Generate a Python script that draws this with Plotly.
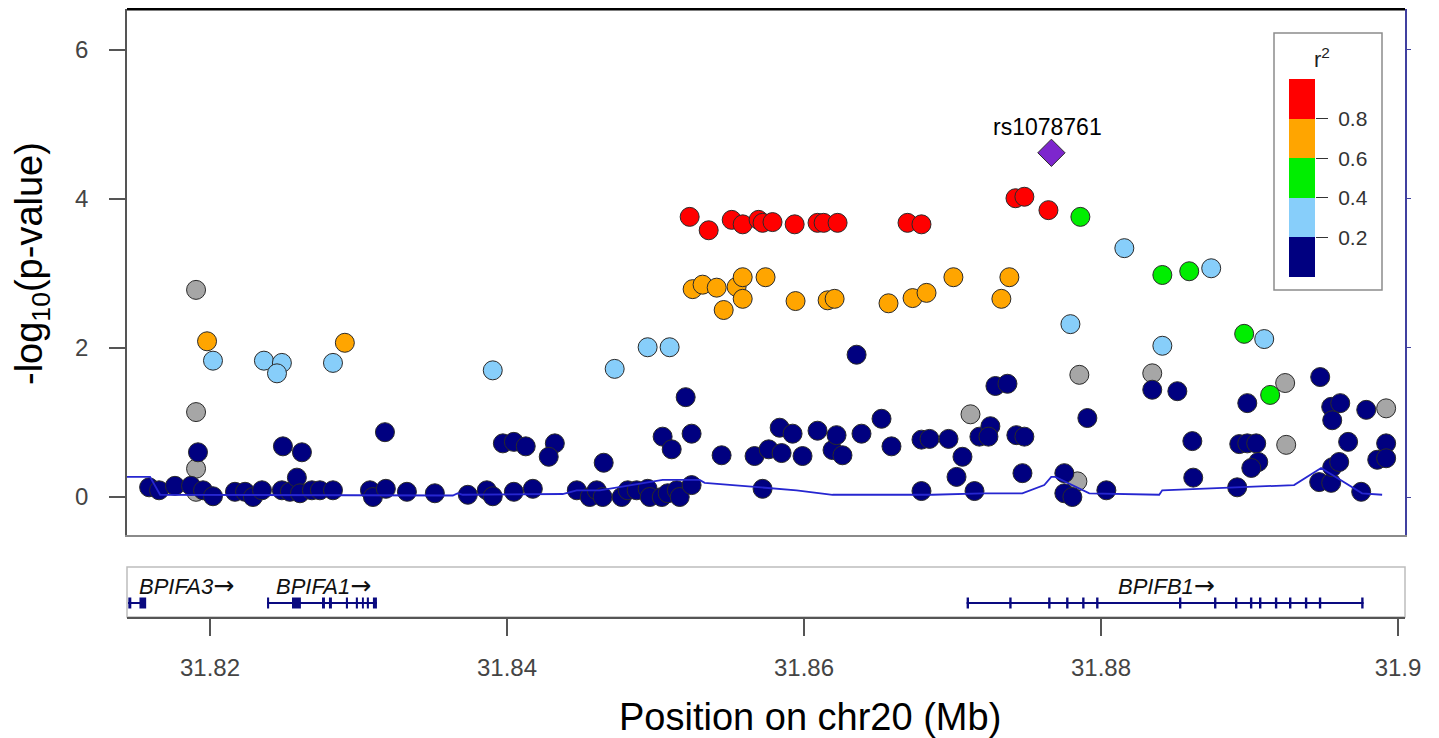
import plotly.graph_objects as go

# -------- SNP data (position in Mb, -log10 p) grouped by LD r2 class --------
navy_pos = [31.81590, 31.81657, 31.81764, 31.81872, 31.81953, 31.82020, 31.81919, 31.82168, 31.82236,
            31.82289, 31.82350, 31.82484, 31.82538, 31.82585, 31.82606, 31.82686, 31.82740, 31.82828,
            31.82491, 31.82619, 31.83178, 31.83077, 31.83097, 31.83184, 31.83326, 31.83514, 31.83736,
            31.83864, 31.83904, 31.83972, 31.84046, 31.84126, 31.84046, 31.84174, 31.84322, 31.84281,
            31.84470, 31.84557, 31.84604, 31.84651,
            31.84644, 31.84772, 31.84813, 31.84873, 31.84947, 31.84961, 31.85042, 31.85082, 31.85143,
            31.85163, 31.85243, 31.85203, 31.85048, 31.85109, 31.85243, 31.85445, 31.85667, 31.85721,
            31.85762, 31.85849, 31.85836, 31.85923, 31.85990, 31.86091, 31.86192, 31.86219, 31.86259,
            31.86354, 31.86387, 31.86522, 31.86589, 31.86791, 31.86845, 31.86973, 31.86791, 31.87067,
            31.87027, 31.87148, 31.87181, 31.87255, 31.87242, 31.87289, 31.87370, 31.87430, 31.87484,
            31.87471, 31.87753, 31.87753, 31.87807, 31.87908,
            31.88036, 31.88345, 31.88514, 31.88615, 31.88621, 31.88917, 31.88931, 31.88985, 31.89045,
            31.89059, 31.89012, 31.88985, 31.89476, 31.89550, 31.89611, 31.89557, 31.89786, 31.89664,
            31.89920, 31.89860, 31.89920, 31.89469, 31.89550, 31.89557, 31.89604, 31.89752]
navy_logp = [0.13, 0.09, 0.15, 0.15, 0.09, 0.01, 0.60, 0.07, 0.07,
             0.00, 0.09, 0.09, 0.07, 0.26, 0.05, 0.09, 0.09, 0.09,
             0.68, 0.60, 0.87, 0.09, 0.00, 0.11, 0.07, 0.05, 0.03,
             0.09, 0.01, 0.72, 0.74, 0.68, 0.07, 0.11, 0.72, 0.54,
             0.09, 0.00, 0.09, 0.46,
             0.00, 0.00, 0.09, 0.09, 0.11, 0.00, 0.00, 0.05, 0.09,
             0.00, 0.16, 1.34, 0.81, 0.64, 0.85, 0.56, 0.55, 0.11,
             0.64, 0.59, 0.93, 0.85, 0.55, 0.89, 0.63, 0.83, 0.56,
             1.91, 0.85, 1.05, 0.68, 0.77, 0.78, 0.78, 0.08, 0.54,
             0.27, 0.08, 0.81, 0.95, 0.81, 1.49, 1.52, 0.83, 0.81,
             0.32, 0.32, 0.05, 0.00, 1.06,
             0.09, 1.44, 1.42, 0.75, 0.26, 0.13, 0.71, 0.72, 0.72,
             0.47, 0.39, 1.26, 1.61, 1.21, 1.26, 1.03, 1.17, 0.74,
             0.72, 0.50, 0.52, 0.20, 0.19, 0.40, 0.47, 0.07]

lightblue_pos = [31.82020, 31.82363, 31.82484, 31.82451, 31.82828, 31.83904, 31.84725, 31.84947,
                 31.85095, 31.87794, 31.88157, 31.88742, 31.88413, 31.89099]
lightblue_logp = [1.83, 1.83, 1.80, 1.66, 1.80, 1.70, 1.72, 2.01,
                  2.01, 2.32, 3.34, 3.07, 2.03, 2.12]

green_pos = [31.87861, 31.88413, 31.88594, 31.88964, 31.89139]
green_logp = [3.76, 2.98, 3.03, 2.19, 1.37]

orange_pos = [31.81980, 31.82908, 31.85250, 31.85317, 31.85412, 31.85546, 31.85587, 31.85741,
              31.85459, 31.85587, 31.85943, 31.86159, 31.86206, 31.86569, 31.86731, 31.86825,
              31.87006, 31.87383, 31.87329]
orange_logp = [2.09, 2.07, 2.79, 2.85, 2.81, 2.82, 2.95, 2.95,
               2.51, 2.66, 2.63, 2.64, 2.66, 2.60, 2.67, 2.74,
               2.95, 2.95, 2.66]

red_pos = [31.85230, 31.85358, 31.85513, 31.85587, 31.85694, 31.85721, 31.85788, 31.85937,
           31.86091, 31.86132, 31.86226, 31.86697, 31.86791, 31.87424, 31.87484, 31.87646]
red_logp = [3.76, 3.58, 3.72, 3.66, 3.72, 3.68, 3.69, 3.66,
            3.68, 3.68, 3.68, 3.68, 3.66, 4.01, 4.03, 3.85]

gray_pos = [31.81906, 31.81906, 31.81906, 31.81906, 31.87121, 31.87854, 31.87841, 31.88345,
            31.89240, 31.89247, 31.89920]
gray_logp = [2.78, 1.14, 0.38, 0.07, 1.11, 1.64, 0.21, 1.66,
             1.53, 0.70, 1.19]

index_snp = "rs1078761"
index_pos = [31.87666]
index_logp = [4.62]

# recombination rate (cM/Mb)
recomb_pos = [31.81441, 31.81596, 31.81664, 31.83635, 31.83669, 31.83702, 31.84375, 31.84469,
              31.84624, 31.84994, 31.85048, 31.85297, 31.85331, 31.85950, 31.86192, 31.86865,
              31.87201, 31.87470, 31.87618, 31.87665, 31.87692, 31.87921, 31.88392, 31.88412,
              31.88883, 31.89300, 31.89482, 31.89758, 31.89893]
recomb_rate = [2.7, 2.7, 0.3, 0.2, 0.5, 0.3, 0.4, 0.9,
               0.9, 2.1, 2.3, 2.3, 1.9, 0.9, 0.3, 0.3,
               0.5, 0.5, 1.6, 2.7, 2.7, 0.5, 0.3, 0.9,
               1.3, 1.6, 3.9, 0.5, 0.3]

# genes
gene_names = ["BPIFA3", "BPIFA1", "BPIFB1"]
gene_start = [31.81448, 31.82384, 31.87095]
gene_end = [31.81569, 31.83124, 31.89768]
exon_starts = [
    [31.81450, 31.81525],
    [31.82384, 31.82552, 31.82754, 31.82801, 31.82915, 31.82982, 31.83023, 31.83056, 31.83097],
    [31.87095, 31.87382, 31.87644, 31.87765, 31.87873, 31.87967, 31.88525, 31.88761, 31.88902,
     31.89003, 31.89064, 31.89171, 31.89266, 31.89373, 31.89467, 31.89752],
]
exon_ends = [
    [31.81470, 31.81570],
    [31.82398, 31.82612, 31.82774, 31.82821, 31.82929, 31.82996, 31.83036, 31.83070, 31.83124],
    [31.87111, 31.87398, 31.87660, 31.87781, 31.87889, 31.87983, 31.88541, 31.88777, 31.88918,
     31.89019, 31.89080, 31.89187, 31.89282, 31.89389, 31.89483, 31.89768],
]
gene_label_pos = [31.81839, 31.82767, 31.88439]

ld_breaks = [0.0, 0.2, 0.4, 0.6, 0.8, 1.0]
ld_colors = ["#000080", "#87CEFA", "#00EE00", "#FFA500", "#FF0000"]
ld_mid = [0.1, 0.3, 0.5, 0.7, 0.9]

# the page body keeps its 8px margin, so the figure is a bit smaller than the window
PAGE_OFF = 8
W, H = 1439 - PAGE_OFF, 738 - PAGE_OFF
xr = [31.81441, 31.90047]
yr = [-0.51, 6.55]


def px_x(p):
    return (p - PAGE_OFF) / W


def px_y(p):
    return 1 - (p - PAGE_OFF) / H


fig = go.Figure()

# recombination line on right axis
fig.add_trace(go.Scatter(x=recomb_pos, y=recomb_rate, mode="lines", yaxis="y2",
                         line=dict(color="#2626d0", width=1.8), hoverinfo="skip"))


def snp_trace(xs, ys, color, symbol="circle", size=19):
    return go.Scatter(x=xs, y=ys, mode="markers",
                      marker=dict(color=color, size=size, symbol=symbol,
                                  line=dict(color="#2a2a2a", width=1)))


fig.add_trace(snp_trace(gray_pos, gray_logp, "#A6A6A6"))
fig.add_trace(snp_trace(navy_pos, navy_logp, ld_colors[0]))
fig.add_trace(snp_trace(lightblue_pos, lightblue_logp, ld_colors[1]))
fig.add_trace(snp_trace(green_pos, green_logp, ld_colors[2]))
fig.add_trace(snp_trace(orange_pos, orange_logp, ld_colors[3]))
fig.add_trace(snp_trace(red_pos, red_logp, ld_colors[4]))
fig.add_trace(snp_trace(index_pos, index_logp, "#7D26CD", symbol="diamond", size=21))

# gene track
for i, name in enumerate(gene_names):
    fig.add_trace(go.Scatter(x=[gene_start[i], gene_end[i]], y=[0.28, 0.28], mode="lines",
                             xaxis="x2", yaxis="y3", line=dict(color="#0a0a80", width=2),
                             hoverinfo="skip"))
    ex, ey = [], []
    for s, e in zip(exon_starts[i], exon_ends[i]):
        ex += [s, e, None]
        ey += [0.28, 0.28, None]
    fig.add_trace(go.Scatter(x=ex, y=ey, mode="lines", xaxis="x2", yaxis="y3",
                             line=dict(color="#0a0a80", width=11), hoverinfo="skip"))
    fig.add_annotation(x=gene_label_pos[i], y=0.64, xref="x2", yref="y3", showarrow=False,
                       xanchor="center", yanchor="middle",
                       text="<i>" + name + "</i><span style=\"font-family:DejaVu Sans;font-size:25px\">→</span>",
                       font=dict(size=22, color="#111"))

# r2 legend bar
fig.add_trace(go.Heatmap(z=[[v] for v in ld_mid], y=ld_mid, x=[0], xaxis="x3", yaxis="y4",
                         zmin=0, zmax=1, showscale=False, hoverinfo="skip",
                         colorscale=[[ld_breaks[k + j], ld_colors[k]] for k in range(5) for j in (0, 1)]))

xdom = [px_x(127), px_x(1405)]
fig.update_layout(
    width=W, height=H, margin=dict(l=0, r=0, t=0, b=0, autoexpand=False),
    paper_bgcolor="white", plot_bgcolor="white", showlegend=False,
    font=dict(family="Liberation Sans, Arial, sans-serif"),
    xaxis=dict(domain=xdom, range=xr, anchor="y", showticklabels=False, ticks="", automargin=False,
               showgrid=False, zeroline=False, showline=True, linecolor="#8a8a8a", linewidth=1.5),
    yaxis=dict(domain=[px_y(535), px_y(9)], range=yr, anchor="x", tickvals=[0, 2, 4, 6],
               ticks="outside", ticklen=16, tickwidth=1.5, tickcolor="#555", automargin=False,
               tickfont=dict(size=24, color="#444"), ticklabelstandoff=16,
               showgrid=False, zeroline=False, showline=True, linecolor="#555", linewidth=1.5),
    yaxis2=dict(overlaying="y", side="right", anchor="x", range=[v * 10 for v in yr],
                tickvals=[0, 20, 40, 60], ticks="outside", ticklen=4, tickcolor="#4040a0",
                showticklabels=False, showgrid=False, zeroline=False, automargin=False,
                showline=True, linecolor="#4040a0", linewidth=1.5),
    xaxis2=dict(domain=xdom, range=xr, anchor="y3", matches="x", automargin=False,
                tickvals=[31.82, 31.84, 31.86, 31.88, 31.9],
                ticktext=["31.82", "31.84", "31.86", "31.88", "31.9"],
                ticks="outside", ticklen=17, tickwidth=1.5, tickcolor="#555",
                tickfont=dict(size=24, color="#444"), ticklabelstandoff=11,
                showgrid=False, zeroline=False, showline=True, linecolor="#555", linewidth=2),
    yaxis3=dict(domain=[px_y(617), px_y(567)], range=[0, 1], anchor="x2", visible=False,
                automargin=False),
    xaxis3=dict(domain=[px_x(1289), px_x(1315)], anchor="y4", visible=False, automargin=False),
    yaxis4=dict(domain=[px_y(277), px_y(79)], range=[0, 1], anchor="x3", side="right",
                tickvals=ld_breaks[1:5], ticktext=["0.2", "0.4", "0.6", "0.8"], automargin=False,
                ticks="outside", ticklen=12, tickcolor="#333", tickwidth=1.2,
                tickfont=dict(size=21, color="#333"), ticklabelstandoff=6,
                showgrid=False, zeroline=False, showline=False),
)

# frame details
fig.add_shape(type="line", xref="x domain", yref="y domain", x0=0, x1=1, y0=1, y1=1,
              line=dict(color="black", width=3))
fig.add_shape(type="rect", xref="x2 domain", yref="y3 domain", x0=0, x1=1, y0=0, y1=1,
              line=dict(color="#bdbdbd", width=1.5), layer="below")
fig.add_shape(type="rect", xref="paper", yref="paper", x0=px_x(1274), x1=px_x(1382),
              y0=px_y(290), y1=px_y(33), line=dict(color="#8c8c8c", width=1.5))

# annotations
fig.add_annotation(x=index_pos[0], y=index_logp[0], text=index_snp, showarrow=False,
                   xanchor="center", yanchor="middle",
                   yshift=26, xshift=-4, font=dict(size=23, color="black"))
fig.add_annotation(x=px_x(1322), y=px_y(58), xref="paper", yref="paper", showarrow=False,
                   xanchor="center", yanchor="middle",
                   text="r<sup>2</sup>", font=dict(size=22, color="#222"))
fig.add_annotation(x=px_x(32), y=px_y(264), xref="paper", yref="paper", showarrow=False,
                   xanchor="center", yanchor="middle",
                   text="-log<sub>10</sub>(p-value)", textangle=-90, font=dict(size=38, color="black"))
fig.add_annotation(x=px_x(810), y=px_y(717), xref="paper", yref="paper", showarrow=False,
                   xanchor="center", yanchor="middle",
                   text="Position on chr20 (Mb)", font=dict(size=38, color="black"))

fig.write_html("out.html")
